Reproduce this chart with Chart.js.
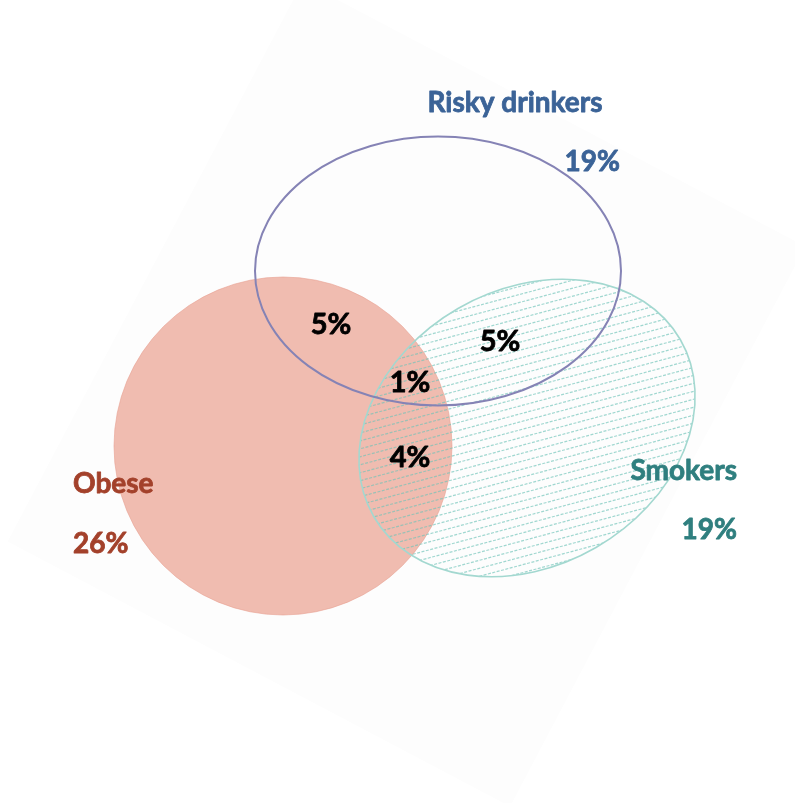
<!DOCTYPE html>
<html>
<head>
<meta charset="utf-8">
<script src="https://cdn.jsdelivr.net/npm/chart.js@4.4.0/dist/chart.umd.min.js"></script>
<style>
  html, body { margin: 0; padding: 0; background: #fff; }
  #wrap { width: 795px; height: 803px; }
</style>
</head>
<body>
<div id="wrap"><canvas id="vennChart" width="795" height="803"></canvas></div>
<script>
// share of population, percent
const setNames = ['Obese', 'Risky drinkers', 'Smokers'];
const setShares = [26, 19, 19];
const overlapNames = ['Obese + Risky drinkers', 'Risky drinkers + Smokers', 'All three', 'Obese + Smokers'];
const overlapShares = [5, 5, 1, 4];

// layout in axis units (1 unit = 10px)
const shapeX = [28.3, 43.8, 52.7];
const shapeY = [35.7, 53.2, 37.5];
const shapeRx = [16.9, 18.3, 17.7];
const shapeRy = [16.9, 13.45, 13.8];
const shapeRot = [0, 0, -30];
const nameX = [7.3, 51.5, 73.7];
const nameY = [31.0, 69.1, 32.3];
const nameAlign = ['left', 'center', 'right'];
const pctX = [7.3, 62.0, 73.7];
const pctY = [25.0, 63.2, 26.4];
const pctAlign = ['left', 'right', 'right'];
const overlapX = [33.1, 50.0, 41.0, 41.0];
const overlapY = [46.9, 45.2, 41.1, 33.6];
const setColors = ['#a3412b', '#3b6397', '#2f7f7f'];

const backdrop = { x: 40.65, y: 40.9, w: 56.8, h: 63.3, angle: 27.8 };

const rad = d => d * Math.PI / 180;

const vennPlugin = {
    id: 'venn',
    beforeDatasetsDraw(chart) {
        const ctx = chart.ctx;
        const x = chart.scales.x, y = chart.scales.y;
        const px = v => x.getPixelForValue(v);
        const py = v => y.getPixelForValue(v);
        const len = v => Math.abs(x.getPixelForValue(v) - x.getPixelForValue(0));

        // faint tilted backdrop
        ctx.save();
        ctx.translate(px(backdrop.x), py(backdrop.y));
        ctx.rotate(rad(backdrop.angle));
        ctx.fillStyle = '#fdfdfd';
        ctx.fillRect(-len(backdrop.w) / 2, -len(backdrop.h) / 2, len(backdrop.w), len(backdrop.h));
        ctx.restore();

        // obese - filled circle
        ctx.save();
        ctx.beginPath();
        ctx.ellipse(px(shapeX[0]), py(shapeY[0]), len(shapeRx[0]), len(shapeRy[0]), 0, 0, Math.PI * 2);
        ctx.fillStyle = '#f0bcb0';
        ctx.fill();
        ctx.strokeStyle = 'rgba(232,160,145,0.6)';
        ctx.lineWidth = 1;
        ctx.stroke();
        ctx.restore();

        // smokers - hatched ellipse
        const sx = px(shapeX[2]), sy = py(shapeY[2]);
        ctx.save();
        ctx.beginPath();
        ctx.ellipse(sx, sy, len(shapeRx[2]), len(shapeRy[2]), rad(shapeRot[2]), 0, Math.PI * 2);
        ctx.clip();
        ctx.translate(sx, sy);
        ctx.rotate(rad(-15));
        ctx.strokeStyle = 'rgba(110,195,185,0.65)';
        ctx.lineWidth = 1.2;
        ctx.setLineDash([3, 1.5]);
        for (let k = -30; k <= 30; k++) {
            ctx.beginPath();
            ctx.moveTo(-260, k * 7.7);
            ctx.lineTo(260, k * 7.7);
            ctx.stroke();
        }
        ctx.restore();
        ctx.save();
        ctx.beginPath();
        ctx.ellipse(sx, sy, len(shapeRx[2]), len(shapeRy[2]), rad(shapeRot[2]), 0, Math.PI * 2);
        ctx.strokeStyle = '#a3d8d0';
        ctx.lineWidth = 1.6;
        ctx.stroke();
        ctx.restore();

        // risky drinkers - outline only
        ctx.save();
        ctx.beginPath();
        ctx.ellipse(px(shapeX[1]), py(shapeY[1]), len(shapeRx[1]), len(shapeRy[1]), rad(shapeRot[1]), 0, Math.PI * 2);
        ctx.strokeStyle = '#8583b5';
        ctx.lineWidth = 2;
        ctx.stroke();
        ctx.restore();
    },
    afterDatasetsDraw(chart) {
        const ctx = chart.ctx;
        const x = chart.scales.x, y = chart.scales.y;
        // text drawn filled + thin stroke so Lato looks as heavy as the original
        const put = (txt, px, py) => {
            ctx.fillText(txt, px, py);
            ctx.strokeText(txt, px, py);
        };
        ctx.save();
        ctx.font = 'bold 28px Lato';
        ctx.textBaseline = 'alphabetic';
        ctx.lineWidth = 0.8;
        ctx.lineJoin = 'round';
        setNames.forEach((name, i) => {
            ctx.fillStyle = setColors[i];
            ctx.strokeStyle = setColors[i];
            ctx.textAlign = nameAlign[i];
            put(name, x.getPixelForValue(nameX[i]), y.getPixelForValue(nameY[i]));
            ctx.textAlign = pctAlign[i];
            put(setShares[i] + '%', x.getPixelForValue(pctX[i]), y.getPixelForValue(pctY[i]));
        });
        ctx.font = 'bold 29px Lato';
        ctx.fillStyle = '#000';
        ctx.strokeStyle = '#000';
        ctx.textAlign = 'center';
        overlapShares.forEach((v, i) => {
            put(v + '%', x.getPixelForValue(overlapX[i]), y.getPixelForValue(overlapY[i]));
        });
        ctx.restore();
    }
};

const ctx = document.getElementById('vennChart').getContext('2d');
const vennChart = new Chart(ctx, {
    type: 'scatter',
    data: {
        datasets: setNames.map((name, i) => ({
            label: name,
            data: [{ x: shapeX[i], y: shapeY[i] }],
            pointRadius: 0,
            pointHoverRadius: 0
        }))
    },
    options: {
        responsive: false,
        animation: false,
        layout: { padding: 0 },
        plugins: {
            legend: { display: false },
            tooltip: { enabled: false }
        },
        scales: {
            x: { type: 'linear', min: 0, max: 79.5, display: false },
            y: { type: 'linear', min: 0, max: 80.3, display: false }
        }
    },
    plugins: [vennPlugin]
});
</script>
</body>
</html>
